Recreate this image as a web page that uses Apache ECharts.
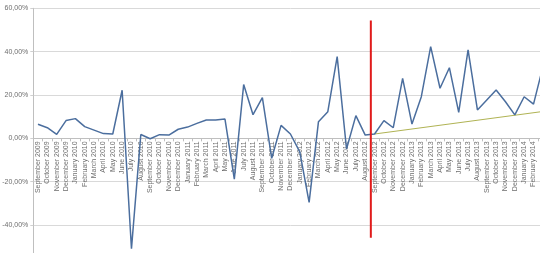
<!DOCTYPE html>
<html>
<head>
<meta charset="utf-8">
<script src="https://cdn.jsdelivr.net/npm/echarts@6/dist/echarts.min.js"></script>
<style>
html,body{margin:0;padding:0;background:#fff;overflow:hidden;width:540px;height:253px;}
#c{width:560px;height:280px;}
</style>
</head>
<body>
<div id="c"></div>
<script>
var categories = [
  "September 2009","October 2009","November 2009","December 2009",
  "January 2010","February 2010","March 2010","April 2010","May 2010","June 2010","July 2010","August 2010","September 2010","October 2010","November 2010","December 2010",
  "January 2011","February 2011","March 2011","April 2011","May 2011","June 2011","July 2011","August 2011","September 2011","October 2011","November 2011","December 2011",
  "January 2012","February 2012","March 2012","April 2012","May 2012","June 2012","July 2012","August 2012","September 2012","October 2012","November 2012","December 2012",
  "January 2013","February 2013","March 2013","April 2013","May 2013","June 2013","July 2013","August 2013","September 2013","October 2013","November 2013","December 2013",
  "January 2014","February 2014","March 2014"
];
var growth = [
  6.5, 4.9, 1.8, 8.2,
  9.1, 5.4, 3.8, 2.2, 2.0, 22.2, -50.9, 1.8, -0.2, 1.7, 1.5, 4.2,
  5.2, 6.9, 8.5, 8.5, 8.9, -18.8, 24.8, 10.9, 18.8, -9.2, 6.0, 2.0,
  -6.2, -29.5, 7.7, 12.3, 37.7, -4.9, 10.5, 1.5, 2.0, 8.2, 4.9, 27.7,
  6.6, 19.2, 42.3, 23.1, 32.6, 12.0, 40.8, 13.1, 17.7, 22.3, 16.9, 10.8,
  19.2, 15.8, 33.0
];
// linear trend for the period after the red marker (start and end values)
var trendStartIndex = 36, trendStartValue = 2.0;
var trendEndIndex = 54, trendEndValue = 12.4;
// red marker line position (in category units) and its vertical extent (%)
var markerX = 36.1;
var markerTop = 54.4, markerBottom = -45.9;
var yTicks = [-60, -40, -20, 0, 20, 40, 60];

var trend = categories.map(function(_, i){
  if (i === trendStartIndex) return trendStartValue;
  if (i === trendEndIndex) return trendEndValue;
  return null;
});

var gridTop = 8.3, gridHeight = 260.1;
// x axis sits at the 0 % level: offset it up from the grid bottom
var zeroOffset = -gridHeight * (0 - yTicks[0]) / (yTicks[yTicks.length-1] - yTicks[0]);

var chart = echarts.init(document.getElementById('c'), null, {renderer:'canvas'});
var font = '"Liberation Sans", Arial, sans-serif';
chart.setOption({
  animation: false,
  backgroundColor: '#ffffff',
  grid: {left: 33.3, top: gridTop, width: 514.25, height: gridHeight, containLabel: false, outerBoundsMode: 'none'},
  xAxis: [{
    type: 'category',
    data: categories,
    boundaryGap: true,
    position: 'bottom',
    offset: zeroOffset,
    axisLine: {onZero: false, lineStyle: {color: '#bfbfbf', width: 1}},
    axisTick: {show: true, length: 3, lineStyle: {color: '#bfbfbf'}},
    axisLabel: {interval: 0, rotate: 90, fontSize: 7, color: '#6e6e6e', margin: 3, fontFamily: font},
    splitLine: {show: false}
  }, {
    type: 'value', min: 0, max: categories.length, show: false
  }],
  yAxis: {
    type: 'value',
    min: yTicks[0], max: yTicks[yTicks.length-1], interval: 20,
    axisLine: {show: true, lineStyle: {color: '#bfbfbf'}},
    axisTick: {show: true, length: 3, lineStyle: {color: '#d0d0d0'}},
    axisLabel: {fontSize: 7, color: '#6e6e6e', margin: 5, fontFamily: font,
      formatter: function(v){ return v.toFixed(2).replace('.', ',') + '%'; }},
    splitLine: {show: true, lineStyle: {color: '#d9d9d9', width: 1}}
  },
  series: [{
    type: 'line',
    data: growth,
    symbol: 'none',
    lineStyle: {color: '#4b6e9e', width: 1.5},
    itemStyle: {color: '#4b6e9e'},
    z: 3
  }, {
    type: 'line',
    data: trend,
    connectNulls: true,
    symbol: 'none',
    lineStyle: {color: '#b0b353', width: 1},
    z: 2
  }, {
    type: 'line',
    xAxisIndex: 1,
    data: [[markerX, markerTop], [markerX, markerBottom]],
    symbol: 'none',
    lineStyle: {color: '#e01b1b', width: 2},
    z: 4
  }]
});
</script>
</body>
</html>
